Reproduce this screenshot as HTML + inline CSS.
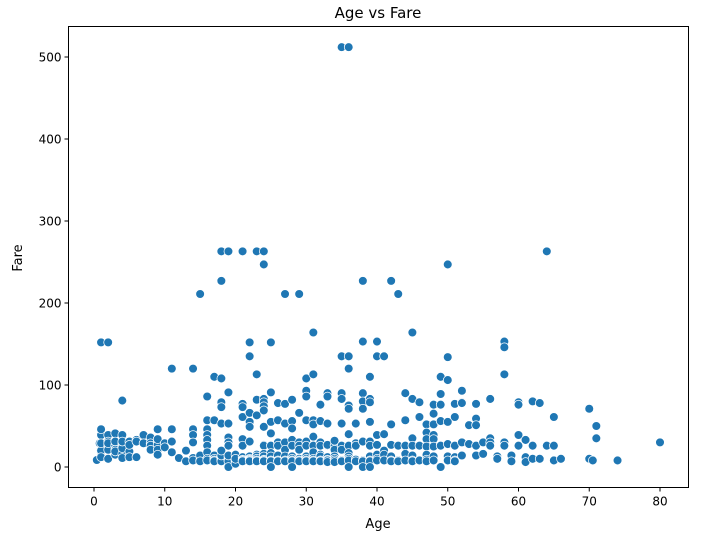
<!DOCTYPE html>
<html><head><meta charset="utf-8"><style>
body{margin:0;background:#fff;}
svg{display:block;font-family:"DejaVu Sans","Liberation Sans",sans-serif;}
</style></head><body>
<svg id="chart" width="702" height="533">
<text x="378" y="18" text-anchor="middle" font-size="15">Age vs Fare</text>
<g id="pts"></g>
<rect x="68.5" y="26.5" width="620" height="461" fill="none" stroke="#000" stroke-width="1"/>
<g id="xt"></g>
<g id="yt"></g>
<text x="378" y="528" text-anchor="middle" font-size="13">Age</text>
<text transform="translate(22,258) rotate(-90)" text-anchor="middle" font-size="13">Fare</text>
</svg>
<script>
const xTicks = [0,10,20,30,40,50,60,70,80];
const yTicks = [0,100,200,300,400,500];
const ageGroups = [0.4,0.8,0.9,1,2,3,4,5,6,7,8,9,10,11,12,13,14,15,16,17,18,19,20,21,22,23,24,25,26,27,28,29,30,31,32,33,34,35,36,37,38,39,40,41,42,43,44,45,46,47,48,49,50,51,52,53,54,55,56,57,58,59,60,61,62,63,64,65,66,70,70.5,71,74,80];
const faresByAge = [
[8.5],[29],[20],[39,46,15,20,12,29,152],[39,27,10,31,21,29,152],[41,26,15,31,21,19],[39,29,16,11,23,31,81],[31,19,12,27],[33,12,31],[39,29],[36,29,26,21],[46,31,27,21,15,34],[29,24],[46,31,18,120],[11],[7,20],[46,39,30,11,8,120],[8,14,7,211],
[57,46,39,33,26,18,10,8,86],[57,14,10,8,7,110],[79,73,53,13,11,9,8,7,14,20,263,227,108],[91,53,36,30,26,13,10,8,7,0,263,14],[15,9,8,7,4,10],
[77,73,61,34,26,12,9,8,7,263],[66,55,49,31,13,10,9,8,7,135,152],[82,63,15,13,10,8,7,113,263],[83,79,74,69,49,27,26,16,13,9,8,7,247,263],
[91,55,41,26,17,13,8,7,0,152],[78,57,30,26,14,8,7],[77,53,30,21,13,8,7,211],[82,56,47,33,26,13,10,8,7,0],[66,30,26,21,10,8,7,211],
[93,86,57,31,26,13,10,8,7,108],[113,57,52,37,26,18,10,8,7,164],[76,56,30,26,15,13,8,7],[90,86,53,26,12,9,8,6,27],[26,21,13,10,8,6,32],
[90,83,53,26,21,8,7,512,135],[75,71,40,26,17,13,10,8,0,512,135,120],[53,29,26,9,7],[90,80,71,31,8,7,0,227,153],[83,79,55,31,26,13,8,7,0,110],
[39,27,15,10,8,153,135],[40,20,15,8,135],[52,27,13,8,7,227],[26,8,7,211],[90,57,26,16,8],[83,35,26,14,8,7,164],[79,61,26,8],[52,42,34,25,15,9,7],
[76,65,52,39,34,25,13,8],[89,76,56,26,0,110],[55,28,13,8,134,106,247],[77,61,26,12,8,7],[93,79,78,30,14],[51,28],[77,59,51,26,14],[30,16],
[83,35,30,26],[13,10],[153,146,113,30,26],[14,7],[79,76,39,26],[33,12,6],[80,26,10],[78,10],[263,26],[61,26,8],[10],[71,10],[8],[50,35],[8],[30]
];
const L=68.5,R=688.5,T=26.5,B=487.5;
function xs(v){return 94+v*(660-94)/80;}
function ys(v){return 467-v*(467-57)/500;}
const NS='http://www.w3.org/2000/svg';
const pts=document.getElementById('pts');
ageGroups.forEach((a,i)=>{faresByAge[i].forEach(f=>{
 const c=document.createElementNS(NS,'circle');
 c.setAttribute('cx',xs(a));c.setAttribute('cy',ys(f));c.setAttribute('r',4.4);
 c.setAttribute('fill','#1f77b4');c.setAttribute('stroke','#fff');c.setAttribute('stroke-width',0.75);
 
 
 pts.appendChild(c);});});
const xt=document.getElementById('xt');
xTicks.forEach(t=>{
 const l=document.createElementNS(NS,'line');
 l.setAttribute('x1',xs(t));l.setAttribute('x2',xs(t));l.setAttribute('y1',B);l.setAttribute('y2',B+4);l.setAttribute('stroke','#000');
 
 
 xt.appendChild(l);
 const tx=document.createElementNS(NS,'text');
 tx.setAttribute('x',xs(t));tx.setAttribute('y',B+18);tx.setAttribute('text-anchor','middle');tx.setAttribute('font-size','12');tx.textContent=t;
 
 
 xt.appendChild(tx);});
const yt=document.getElementById('yt');
yTicks.forEach(t=>{
 const l=document.createElementNS(NS,'line');
 l.setAttribute('x1',L-4);l.setAttribute('x2',L);l.setAttribute('y1',ys(t));l.setAttribute('y2',ys(t));l.setAttribute('stroke','#000');
 
 
 yt.appendChild(l);
 const tx=document.createElementNS(NS,'text');
 tx.setAttribute('x',L-7);tx.setAttribute('y',ys(t)+4.5);tx.setAttribute('text-anchor','end');tx.setAttribute('font-size','12');tx.textContent=t;
 
 
 yt.appendChild(tx);});
</script>
</body></html>
